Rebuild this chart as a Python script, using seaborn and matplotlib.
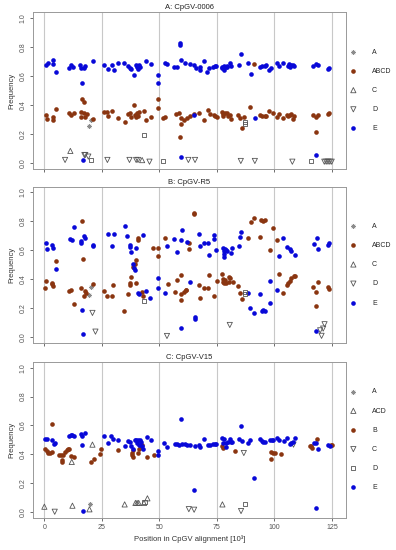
import pandas as pd
import seaborn as sns
import matplotlib
matplotlib.use("Agg")
import matplotlib.pyplot as plt

# ---- panel A: CpGV-0006 ----
a_E_pos = [0.6, 1.7, 3.6, 3.8, 5.1, 10.9, 11.7, 12.6, 15.7, 15.9, 16.2, 17.4, 17.8, 21.0,
           25.9, 27.7, 29.4, 30.1, 32.2, 34.8, 36.5, 37.2, 37.8, 38.8, 39.7, 40.1, 40.6,
           41.2, 41.6, 44.2, 46.4, 49.3, 49.3, 52.3, 53.2, 56.5, 57.5, 59.0, 59.0, 59.3,
           61.2, 63.1, 65.2, 65.8, 67.6, 67.7, 69.4, 70.9, 71.6, 73.3, 74.2, 74.8, 77.3,
           77.4, 78.0, 78.1, 78.9, 79.2, 79.5, 80.9, 81.0, 84.4, 85.5, 88.7, 89.7, 91.4,
           93.8, 94.8, 95.7, 96.4, 97.7, 98.6, 101.0, 101.9, 103.9, 105.8, 106.3, 106.8,
           107.3, 108.1, 108.7, 116.8, 118.1, 118.9, 123.1, 123.8, 118.1, 17.0, 59.4, 65.0]
a_E_freq = [0.674, 0.69, 0.706, 0.685, 0.628, 0.653, 0.676, 0.664, 0.676, 0.657, 0.554, 0.653,
            0.669, 0.70, 0.678, 0.646, 0.676, 0.641, 0.687, 0.692, 0.669, 0.655, 0.648, 0.603,
            0.674, 0.66, 0.646, 0.676, 0.662, 0.699, 0.68, 0.609, 0.548, 0.687, 0.68, 0.662,
            0.66, 0.825, 0.813, 0.71, 0.687, 0.683, 0.676, 0.653, 0.662, 0.644, 0.701, 0.63,
            0.653, 0.664, 0.669, 0.669, 0.651, 0.662, 0.669, 0.644, 0.664, 0.671, 0.66, 0.689,
            0.669, 0.674, 0.753, 0.687, 0.612, 0.312, 0.664, 0.671, 0.671, 0.674, 0.641, 0.653,
            0.687, 0.666, 0.687, 0.671, 0.682, 0.664, 0.676, 0.678, 0.669, 0.671, 0.685, 0.678,
            0.648, 0.655, 0.06, 0.023, 0.046, 0.335]
a_ABCD_pos = [0.6, 1.3, 3.6, 3.8, 5.1, 10.9, 11.6, 12.9, 15.8, 15.9, 16.4, 17.2, 17.4, 17.7,
              18.4, 21.0, 25.9, 27.4, 27.8, 29.6, 32.0, 34.9, 36.4, 37.2, 37.5, 38.8, 39.6,
              39.7, 40.3, 40.9, 41.3, 43.2, 44.3, 46.2, 49.4, 49.4, 51.7, 52.5, 57.1, 58.6,
              59.3, 59.3, 59.0, 60.7, 61.9, 63.1, 65.2, 67.4, 69.4, 71.0, 72.0, 73.6, 74.2,
              75.2, 77.3, 77.6, 77.8, 78.4, 79.3, 79.7, 80.9, 81.0, 84.2, 85.1, 85.7, 87.0,
              89.6, 91.3, 93.8, 94.5, 95.7, 96.2, 97.8, 99.2, 101.0, 102.2, 103.8, 105.4,
              106.1, 106.8, 107.1, 107.9, 108.7, 116.8, 118.1, 118.9, 118.2, 123.5, 123.8]
a_ABCD_freq = [0.33, 0.302, 0.316, 0.298, 0.373, 0.344, 0.332, 0.344, 0.35, 0.316, 0.442, 0.424,
               0.348, 0.321, 0.339, 0.305, 0.35, 0.355, 0.323, 0.36, 0.312, 0.284, 0.339, 0.348,
               0.318, 0.401, 0.332, 0.316, 0.348, 0.328, 0.355, 0.357, 0.30, 0.316, 0.44, 0.378,
               0.314, 0.316, 0.339, 0.346, 0.309, 0.273, 0.179, 0.298, 0.314, 0.325, 0.339, 0.344,
               0.298, 0.364, 0.339, 0.33, 0.325, 0.321, 0.355, 0.337, 0.325, 0.346, 0.344, 0.323,
               0.332, 0.305, 0.332, 0.314, 0.245, 0.316, 0.387, 0.685, 0.332, 0.325, 0.325, 0.325,
               0.36, 0.348, 0.318, 0.337, 0.312, 0.332, 0.323, 0.332, 0.339, 0.307, 0.328, 0.332,
               0.316, 0.332, 0.215, 0.341, 0.346]
a_A_pos = [19.6, 20.2]
a_A_freq = [0.255, 0.30]
a_C_pos = [11.3, 42.5]
a_C_freq = [0.085, 0.022]
a_D_pos = [9.0, 17.4, 17.8, 19.1, 27.4, 37.0, 39.9, 40.7, 45.7, 62.6, 65.5, 85.4, 91.5,
           107.8, 121.7, 122.5, 123.3, 124.1, 124.9]
a_D_freq = [0.023, 0.057, 0.057, 0.046, 0.023, 0.023, 0.023, 0.023, 0.011, 0.023, 0.023,
            0.016, 0.016, 0.011, 0.011, 0.011, 0.011, 0.011, 0.011]
a_sq_pos = [20.3, 43.3, 51.4, 87.2, 87.2, 116.0]
a_sq_freq = [0.02, 0.197, 0.014, 0.282, 0.268, 0.016]

# ---- panel B: CpGV-R5 ----
b_E_pos = [0.6, 1.3, 3.5, 3.8, 4.9, 11.2, 11.9, 13.0, 15.8, 15.9, 17.1, 17.7, 16.5, 17.0,
           21.0, 21.3, 27.5, 29.6, 30.1, 34.9, 36.1, 37.1, 37.2, 37.8, 38.7, 39.1, 39.6,
           39.9, 40.7, 41.3, 43.0, 44.2, 45.9, 49.3, 49.4, 52.3, 53.2, 56.4, 57.7, 59.3,
           59.7, 59.6, 61.9, 63.1, 65.4, 65.4, 67.3, 67.6, 69.3, 71.0, 71.6, 73.6, 73.9,
           74.6, 77.6, 77.9, 78.2, 77.9, 78.6, 79.1, 79.6, 81.0, 81.6, 84.4, 85.2, 85.5,
           88.7, 89.6, 91.3, 93.9, 94.5, 95.2, 95.9, 98.0, 98.1, 101.2, 101.9, 103.9, 105.4,
           106.6, 107.3, 108.9, 117.2, 118.4, 118.9, 123.2, 123.8, 118.0]
b_E_freq = [0.653, 0.609, 0.639, 0.618, 0.474, 0.676, 0.669, 0.763, 0.651, 0.667, 0.701, 0.685,
            0.191, 0.021, 0.637, 0.628, 0.71, 0.632, 0.71, 0.77, 0.697, 0.637, 0.623, 0.586,
            0.508, 0.478, 0.467, 0.614, 0.308, 0.301, 0.706, 0.32, 0.271, 0.411, 0.343, 0.303,
            0.628, 0.678, 0.586, 0.671, 0.74, 0.064, 0.655, 0.384, 0.138, 0.126, 0.71, 0.632,
            0.651, 0.648, 0.566, 0.703, 0.678, 0.602, 0.618, 0.593, 0.575, 0.552, 0.609, 0.602,
            0.593, 0.579, 0.614, 0.632, 0.694, 0.729, 0.306, 0.20, 0.168, 0.297, 0.18, 0.19,
            0.18, 0.239, 0.389, 0.326, 0.559, 0.685, 0.625, 0.609, 0.598, 0.568, 0.641, 0.683,
            0.609, 0.634, 0.651, 0.041]
b_ABCD_pos = [0.6, 0.4, 3.5, 3.5, 3.8, 4.9, 10.9, 11.6, 12.8, 16.2, 17.0, 15.8, 17.5, 17.1,
              18.1, 21.0, 26.1, 27.4, 29.4, 30.0, 34.8, 36.5, 37.2, 37.1, 37.8, 38.7, 39.4,
              39.9, 39.7, 40.9, 40.9, 42.6, 43.0, 47.1, 49.3, 49.6, 52.3, 53.6, 56.8, 57.5,
              59.3, 59.3, 59.3, 60.6, 61.6, 62.9, 62.9, 65.1, 65.1, 61.5, 67.3, 67.7, 69.4,
              71.5, 71.3, 73.6, 74.9, 77.4, 77.7, 78.0, 77.6, 78.4, 79.1, 80.1, 80.7, 80.4,
              81.9, 84.1, 85.2, 85.8, 88.7, 89.8, 91.3, 94.2, 94.9, 95.7, 93.9, 97.9, 99.2,
              101.0, 101.9, 103.9, 105.4, 105.8, 106.6, 107.3, 108.4, 108.9, 116.9, 118.9,
              118.3, 118.0, 123.4, 123.8]
b_ABCD_freq = [0.386, 0.343, 0.377, 0.366, 0.352, 0.524, 0.32, 0.326, 0.23, 0.805, 0.538, 0.338,
               0.317, 0.287, 0.303, 0.368, 0.317, 0.285, 0.287, 0.361, 0.182, 0.297, 0.372,
               0.361, 0.418, 0.483, 0.503, 0.53, 0.372, 0.685, 0.671, 0.315, 0.287, 0.618, 0.559,
               0.618, 0.687, 0.366, 0.315, 0.395, 0.43, 0.299, 0.26, 0.31, 0.326, 0.651, 0.609,
               0.86, 0.85, 0.326, 0.361, 0.271, 0.34, 0.428, 0.34, 0.287, 0.386, 0.439, 0.402,
               0.377, 0.38, 0.393, 0.372, 0.418, 0.407, 0.384, 0.379, 0.354, 0.303, 0.264, 0.685,
               0.798, 0.821, 0.811, 0.805, 0.809, 0.69, 0.602, 0.752, 0.671, 0.434, 0.306, 0.363,
               0.375, 0.386, 0.409, 0.423, 0.421, 0.345, 0.382, 0.31, 0.218, 0.345, 0.333]
b_A_pos = [19.6, 20.3]
b_A_freq = [0.292, 0.35]
b_C_pos = []
b_C_freq = []
b_D_pos = [20.9, 22.2, 53.3, 80.6, 119.9, 120.5, 121.2, 121.8]
b_D_freq = [0.168, 0.039, 0.009, 0.085, 0.048, 0.01, 0.06, 0.09]
b_sq_pos = [43.2, 87.1, 87.1]
b_sq_freq = [0.248, 0.31, 0.297]

# ---- panel C: CpGV-V15 ----
c_E_pos = [0.2, 1.2, 3.3, 4.1, 4.7, 10.9, 11.4, 12.2, 12.9, 15.8, 16.4, 17.5, 16.2, 17.0,
           25.9, 27.5, 29.1, 30.0, 32.2, 34.9, 36.5, 37.1, 37.8, 38.7, 39.4, 39.9, 40.9,
           41.4, 40.1, 41.2, 42.0, 42.5, 42.8, 44.5, 46.4, 49.4, 49.4, 52.2, 53.3, 56.8,
           57.5, 58.6, 59.3, 59.7, 61.0, 62.2, 63.1, 65.4, 65.1, 67.3, 67.7, 69.3, 71.0,
           71.9, 73.5, 74.2, 74.5, 77.4, 78.0, 77.5, 78.9, 79.1, 79.7, 80.9, 81.3, 81.6,
           84.4, 85.5, 85.7, 88.6, 89.3, 91.3, 93.9, 94.5, 95.2, 96.1, 98.0, 98.8, 99.6,
           101.2, 102.0, 104.1, 105.4, 106.6, 107.3, 107.9, 109.0, 117.1, 117.9, 119.0,
           118.0, 123.4, 124.0]
c_E_freq = [0.503, 0.503, 0.497, 0.469, 0.48, 0.53, 0.533, 0.535, 0.53, 0.54, 0.53, 0.549,
            0.467, 0.007, 0.53, 0.481, 0.526, 0.505, 0.50, 0.46, 0.495, 0.484, 0.46, 0.437,
            0.50, 0.50, 0.50, 0.498, 0.479, 0.467, 0.488, 0.46, 0.437, 0.521, 0.50, 0.426,
            0.393, 0.477, 0.449, 0.472, 0.472, 0.467, 0.644, 0.47, 0.47, 0.467, 0.465, 0.458,
            0.156, 0.467, 0.449, 0.505, 0.467, 0.467, 0.473, 0.473, 0.473, 0.514, 0.505, 0.479,
            0.449, 0.479, 0.486, 0.507, 0.484, 0.486, 0.509, 0.595, 0.491, 0.479, 0.50, 0.235,
            0.505, 0.491, 0.486, 0.484, 0.50, 0.50, 0.50, 0.514, 0.502, 0.493, 0.516, 0.472,
            0.477, 0.488, 0.514, 0.481, 0.477, 0.435, 0.03, 0.467, 0.458]
c_B_pos = [0.4, 1.3, 1.7, 2.5, 3.2, 3.3, 6.5, 7.4, 8.0, 7.5, 7.5, 9.0, 9.7, 10.3, 10.9,
           11.4, 12.9, 20.1, 21.7, 24.2, 24.5, 32.2, 38.4, 38.3, 38.7, 38.0, 40.6, 41.0,
           42.0, 42.6, 44.5, 47.8, 77.4, 77.6, 82.8, 98.4, 98.7, 99.5, 100.2, 102.8, 115.5,
           116.0, 116.5, 118.4, 124.4, 125.1]
c_B_freq = [0.44, 0.426, 0.409, 0.412, 0.414, 0.612, 0.398, 0.398, 0.398, 0.363, 0.349, 0.414,
            0.428, 0.44, 0.44, 0.386, 0.381, 0.349, 0.37, 0.402, 0.44, 0.428, 0.433, 0.409,
            0.384, 0.398, 0.409, 0.437, 0.449, 0.465, 0.381, 0.398, 0.458, 0.444, 0.421, 0.365,
            0.416, 0.412, 0.409, 0.405, 0.456, 0.458, 0.442, 0.509, 0.463, 0.463]
c_A_pos = [19.9]
c_A_freq = [0.056]
c_ACD_pos = [0.0, 12.2, 11.9, 19.6, 20.9, 34.9, 39.6, 40.3, 41.0, 43.3, 44.8, 77.4]
c_ACD_freq = [0.037, 0.044, 0.347, 0.019, 0.467, 0.053, 0.063, 0.063, 0.063, 0.063, 0.095, 0.053]
c_C_pos = [4.5, 62.8, 65.1, 86.7, 85.5, 108.3]
c_C_freq = [0.002, 0.02, 0.016, 0.409, 0.007, 0.467]
c_D_pos = [43.5, 87.4]
c_D_freq = [0.067, 0.053]

titles = ["A: CpGV-0006", "B: CpGV-R5", "C: CpGV-V15"]
x_ticks = [0, 25, 50, 75, 100, 125]
y_ticks = [0.0, 0.2, 0.4, 0.6, 0.8, 1.0]

blue = "#0808d8"
brown = "#8a3510"
grey = "#8c8c8c"
filled = dict(s=11, linewidth=0)
star = dict(marker=(8, 2, 0), s=9, linewidth=0.5, color=grey, edgecolor=grey)
tri_up = dict(marker="^", s=14, linewidth=0.6, color=grey, facecolor="none", edgecolor="#555555")
tri_dn = dict(marker="v", s=14, linewidth=0.6, color=grey, facecolor="none", edgecolor="#555555")
square = dict(marker="s", s=9, linewidth=0.6, color=grey, facecolor="none", edgecolor="#555555")

panels = [
    [("A", a_A_pos, a_A_freq, star),
     ("ABCD", a_ABCD_pos, a_ABCD_freq, dict(color=brown, **filled)),
     ("C", a_C_pos, a_C_freq, tri_up),
     ("D", a_D_pos, a_D_freq, tri_dn),
     ("E", a_E_pos, a_E_freq, dict(color=blue, **filled)),
     ("_sq", a_sq_pos, a_sq_freq, square)],
    [("A", b_A_pos, b_A_freq, star),
     ("ABCD", b_ABCD_pos, b_ABCD_freq, dict(color=brown, **filled)),
     ("C", b_C_pos, b_C_freq, tri_up),
     ("D", b_D_pos, b_D_freq, tri_dn),
     ("E", b_E_pos, b_E_freq, dict(color=blue, **filled)),
     ("_sq", b_sq_pos, b_sq_freq, square)],
    [("A", c_A_pos, c_A_freq, star),
     ("ACD", c_ACD_pos, c_ACD_freq, tri_up),
     ("B", c_B_pos, c_B_freq, dict(color=brown, **filled)),
     ("C", c_C_pos, c_C_freq, tri_dn),
     ("D", c_D_pos, c_D_freq, square),
     ("E", c_E_pos, c_E_freq, dict(color=blue, **filled))],
]

sns.set_style("white")
plt.rcParams['font.family'] = ['Liberation Sans', 'DejaVu Sans']

fig = plt.figure(figsize=(3.96, 5.5), dpi=100)
boxes = [(0.083, 0.6925, 0.79, 0.286),
         (0.083, 0.3762, 0.79, 0.2847),
         (0.083, 0.0585, 0.79, 0.2835)]

for i, (box, series) in enumerate(zip(boxes, panels)):
    ax = fig.add_axes(box)
    for xv in x_ticks:
        ax.axvline(xv, color="#c8c8c8", lw=0.8, zorder=0)
    for label, xs, ys, kw in series:
        df = pd.DataFrame({"pos": xs, "freq": ys})
        if label.startswith("_"):
            ax.scatter(df["pos"], df["freq"], zorder=3, label="_nolegend_",
                       marker=kw["marker"], s=kw["s"], linewidths=kw["linewidth"],
                       facecolors="none", edgecolors=kw["edgecolor"])
            continue
        if len(df) == 0:
            # keep the legend entry even when there are no points
            ax.scatter([], [], label=label, marker=kw.get("marker", "o"), s=kw["s"],
                       linewidths=kw["linewidth"], facecolors=kw.get("facecolor", kw["color"]),
                       edgecolors=kw.get("edgecolor", kw["color"]))
            continue
        sns.scatterplot(data=df, x="pos", y="freq", ax=ax, label=label, zorder=3, **kw)
    ax.set_xlim(-5, 131)
    ax.set_ylim(-0.04, 1.04)
    ax.set_xticks(x_ticks)
    ax.set_yticks(y_ticks)
    ax.set_yticklabels([f"{v:.1f}" for v in y_ticks], rotation=90, va="center")
    if i < 2:
        ax.set_xticklabels([])
        ax.set_xlabel("")
    else:
        ax.set_xlabel("Position in CpGV alignment [10³]", fontsize=5.5, color="#333333", labelpad=3)
    ax.set_ylabel("Frequency", fontsize=5.5, color="#333333", labelpad=3)
    ax.set_title(titles[i], fontsize=5.5, color="#222222", pad=2)
    ax.tick_params(axis="both", labelsize=5, colors="#555555", length=2.5, width=0.6,
                   direction="out", bottom=True, left=True, pad=2)
    for s in ax.spines.values():
        s.set_color("#999999")
        s.set_linewidth(0.7)
    ax.legend(loc="center left", bbox_to_anchor=(1.0, 0.5), frameon=False, fontsize=5,
              handlelength=1.0, handletextpad=2.2, labelspacing=1.75, borderaxespad=0.2,
              markerscale=1.0)

fig.savefig("out.png", dpi=100)
